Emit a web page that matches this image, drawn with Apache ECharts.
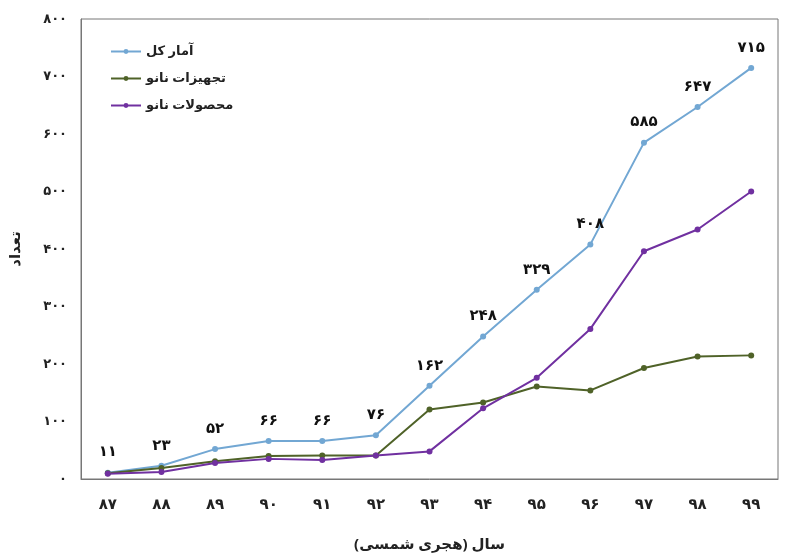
<!DOCTYPE html>
<html><head><meta charset="utf-8">
<script src="https://cdn.jsdelivr.net/npm/echarts@6/dist/echarts.min.js"></script>
<style>html,body{margin:0;background:#fff}#c{width:800px;height:557px}</style>
</head><body><div id="c"></div>
<script>
const categories = ['87','88','89','90','91','92','93','94','95','96','97','98','99'];
const total = [11,23,52,66,66,76,162,248,329,408,585,647,715];
const devices = [10,19,31,40,41,41,121,133,161,154,193,213,215];
const products = [9,12,28,35,33,41,48,123,176,261,396,434,500];
const yTicks = [0,100,200,300,400,500,600,700,800];
const fa = s => String(s).replace(/\d/g, d => '۰۱۲۳۴۵۶۷۸۹'[d]);
const font = 'Noto Sans, DejaVu Sans, sans-serif';
const mk = (name, data, color, labels) => ({
  name, type:'line', data, symbol:'circle', symbolSize:6,
  lineStyle:{color, width:2}, itemStyle:{color},
  label: labels ? {show:true, position:'top', distance:10, color:'#111', fontWeight:'bold', fontSize:15, fontFamily:font, formatter:p=>fa(p.value)} : {show:false}
});
const chart = echarts.init(document.getElementById('c'));
chart.setOption({
  animation:false,
  grid:{left:78, right:22, top:19, bottom:75, show:true, borderColor:'#777', borderWidth:1},
  legend:{orient:'vertical', left:105, top:40, itemGap:14, itemWidth:30, itemHeight:6, align:'left',
    textStyle:{fontFamily:font, fontSize:13, fontWeight:'bold', color:'#222'},
    data:['آمار کل','تجهیزات نانو','محصولات نانو']},
  xAxis:{type:'category', data:categories, boundaryGap:true,
    axisLine:{lineStyle:{color:'#777'}}, axisTick:{show:false},
    axisLabel:{formatter:v=>fa(v), color:'#222', fontWeight:'bold', fontSize:15, fontFamily:font, margin:18},
    name:'سال (هجری شمسی)', nameLocation:'middle', nameGap:58,
    nameTextStyle:{fontFamily:font, fontWeight:'bold', fontSize:15, color:'#222'}},
  yAxis:{type:'value', min:0, max:800, interval:100, splitLine:{show:false},
    axisLine:{show:true, lineStyle:{color:'#777'}}, axisTick:{show:false},
    axisLabel:{formatter:v=>fa(v), color:'#222', fontWeight:'bold', fontSize:13, fontFamily:font, margin:14},
    name:'تعداد', nameLocation:'middle', nameGap:58, nameRotate:90,
    nameTextStyle:{fontFamily:font, fontWeight:'bold', fontSize:15, color:'#222'}},
  series:[
    mk('آمار کل', total, '#72a7d3', true),
    mk('تجهیزات نانو', devices, '#4f6228', false),
    mk('محصولات نانو', products, '#7030a0', false)
  ]
});
</script></body></html>
